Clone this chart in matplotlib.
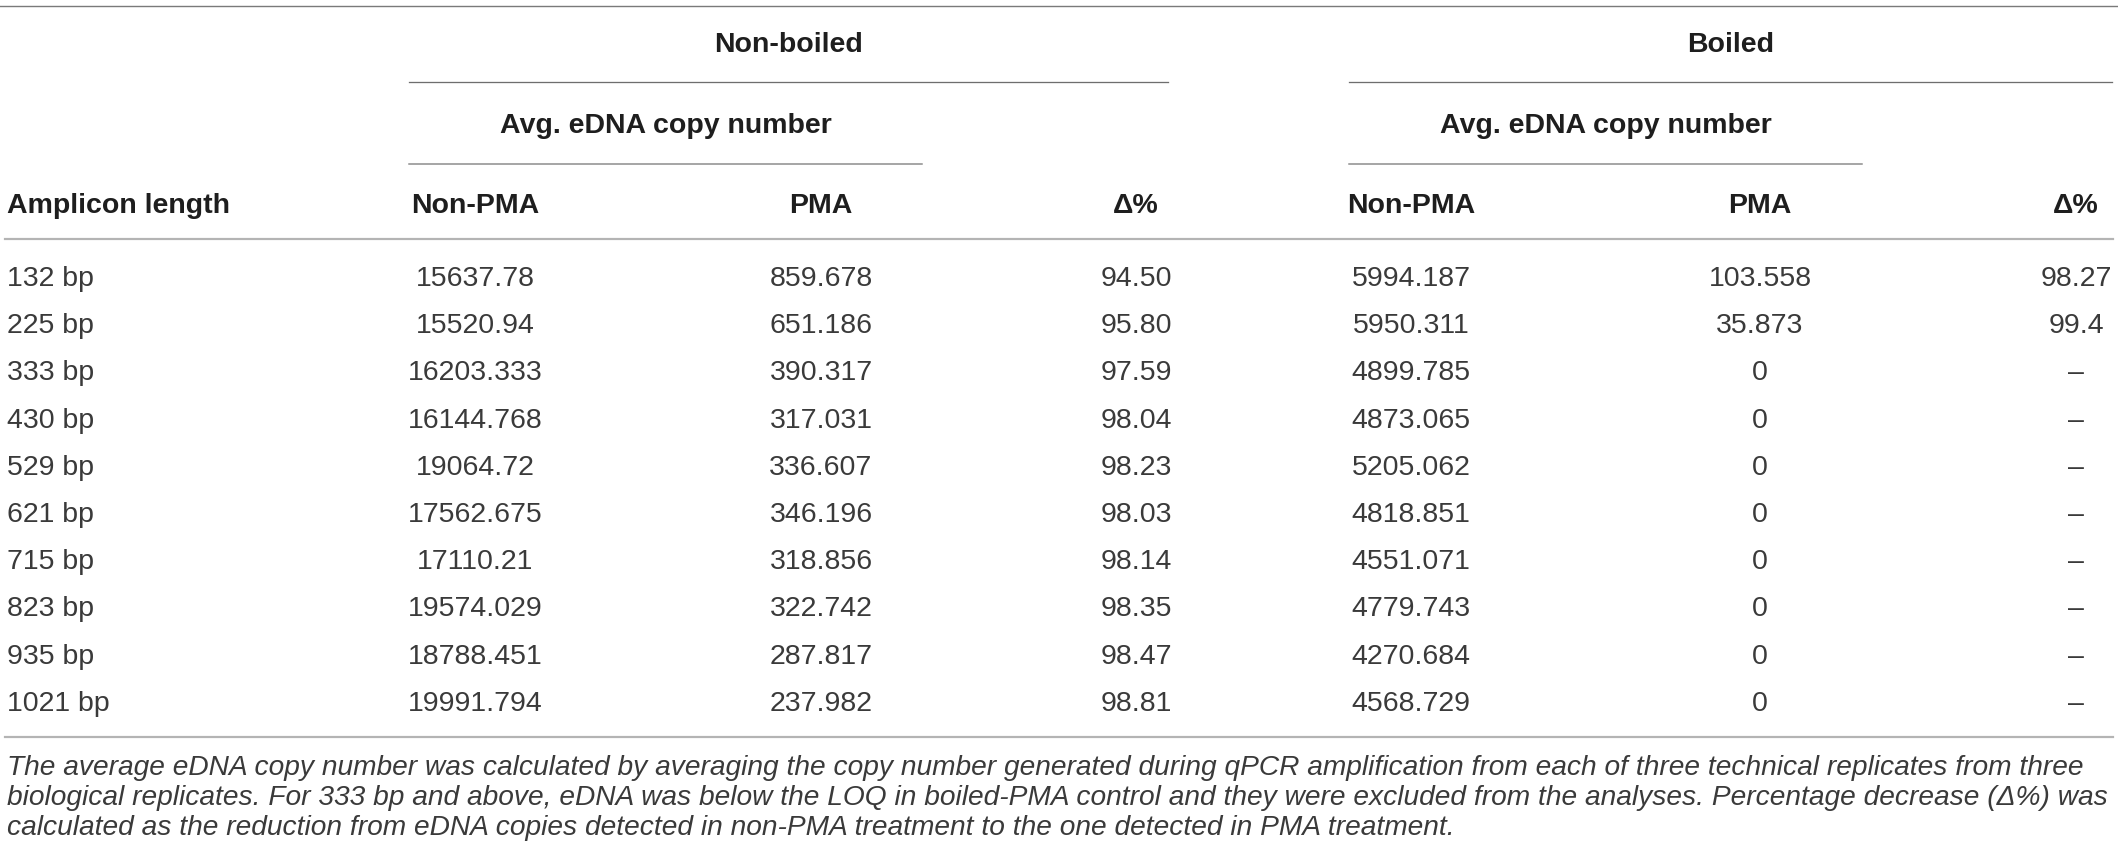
import matplotlib
matplotlib.use("Agg")
import matplotlib.pyplot as plt

plt.rcParams['font.family'] = ['Liberation Sans', 'DejaVu Sans']

# table contents
amplicon = ['132 bp', '225 bp', '333 bp', '430 bp', '529 bp',
            '621 bp', '715 bp', '823 bp', '935 bp', '1021 bp']
nb_non_pma = ['15637.78', '15520.94', '16203.333', '16144.768', '19064.72',
              '17562.675', '17110.21', '19574.029', '18788.451', '19991.794']
nb_pma = ['859.678', '651.186', '390.317', '317.031', '336.607',
          '346.196', '318.856', '322.742', '287.817', '237.982']
nb_delta = ['94.50', '95.80', '97.59', '98.04', '98.23',
            '98.03', '98.14', '98.35', '98.47', '98.81']
b_non_pma = ['5994.187', '5950.311', '4899.785', '4873.065', '5205.062',
             '4818.851', '4551.071', '4779.743', '4270.684', '4568.729']
b_pma = ['103.558', '35.873', '0', '0', '0', '0', '0', '0', '0', '0']
b_delta = ['98.27', '99.4', '–', '–', '–', '–', '–', '–', '–', '–']

group_labels = ['Non-boiled', 'Boiled']
sub_label = 'Avg. eDNA copy number'
col_headers = ['Amplicon length', 'Non-PMA', 'PMA', 'Δ%', 'Non-PMA', 'PMA', 'Δ%']

footnote = [
    'The average eDNA copy number was calculated by averaging the copy number generated during qPCR amplification from each of three technical replicates from three',
    'biological replicates. For 333 bp and above, eDNA was below the LOQ in boiled-PMA control and they were excluded from the analyses. Percentage decrease (Δ%) was',
    'calculated as the reduction from eDNA copies detected in non-PMA treatment to the one detected in PMA treatment.',
]

W, H = 2118, 860
fig = plt.figure(figsize=(W / 100, H / 100), dpi=100)
ax = fig.add_axes([0, 0, 1, 1])
ax.set_xlim(0, W)
ax.set_ylim(H, 0)
ax.axis('off')

px = 0.72  # one pixel in points
head_col = '#1e1e1e'
body_col = '#3a3a3a'
fs = 20.5

# column x positions (left edge for first column, centres otherwise)
col_x = [7, 475, 821, 1136, 1411, 1760, 2076]
row_base0 = 286
row_step = 47.2

# horizontal rules
ax.plot([0, W], [6, 6], color='#7a7a7a', lw=1.4 * px)
ax.plot([409, 1168], [82, 82], color='#6e6e6e', lw=1.3 * px)
ax.plot([1349, 2112], [82, 82], color='#6e6e6e', lw=1.3 * px)
ax.plot([409, 922], [164, 164], color='#8a8a8a', lw=1.5 * px)
ax.plot([1349, 1862], [164, 164], color='#8a8a8a', lw=1.5 * px)
ax.plot([5, 2113], [239, 239], color='#b4b4b4', lw=2.2 * px)
ax.plot([5, 2113], [737, 737], color='#b4b4b4', lw=2.2 * px)

# group headers
ax.text((409 + 1168) / 2, 52, group_labels[0], ha='center', va='baseline',
        fontsize=fs, fontweight='bold', color=head_col)
ax.text((1349 + 2112) / 2, 52, group_labels[1], ha='center', va='baseline',
        fontsize=fs, fontweight='bold', color=head_col)
ax.text((409 + 922) / 2, 133, sub_label, ha='center', va='baseline',
        fontsize=fs, fontweight='bold', color=head_col)
ax.text((1349 + 1862) / 2, 133, sub_label, ha='center', va='baseline',
        fontsize=fs, fontweight='bold', color=head_col)

for i, h in enumerate(col_headers):
    ax.text(col_x[i], 213, h, ha='left' if i == 0 else 'center', va='baseline',
            fontsize=fs, fontweight='bold', color=head_col)

columns = [amplicon, nb_non_pma, nb_pma, nb_delta, b_non_pma, b_pma, b_delta]
for c, vals in enumerate(columns):
    for r, v in enumerate(vals):
        ax.text(col_x[c], row_base0 + r * row_step, v,
                ha='left' if c == 0 else 'center', va='baseline',
                fontsize=fs, color=body_col)

# footnote: one size for all lines, shrunk so the widest line fits
notes = [ax.text(7, 775 + i * 30, line, ha='left', va='baseline',
                 fontsize=20.4, fontstyle='italic', color=body_col)
         for i, line in enumerate(footnote)]
renderer = fig.canvas.get_renderer()
widest = max(t.get_window_extent(renderer).width for t in notes)
note_fs = 20.4 * min(1.0, 2098 / widest)
for t in notes:
    t.set_fontsize(note_fs)

fig.savefig('out.png', dpi=100, facecolor='white')
